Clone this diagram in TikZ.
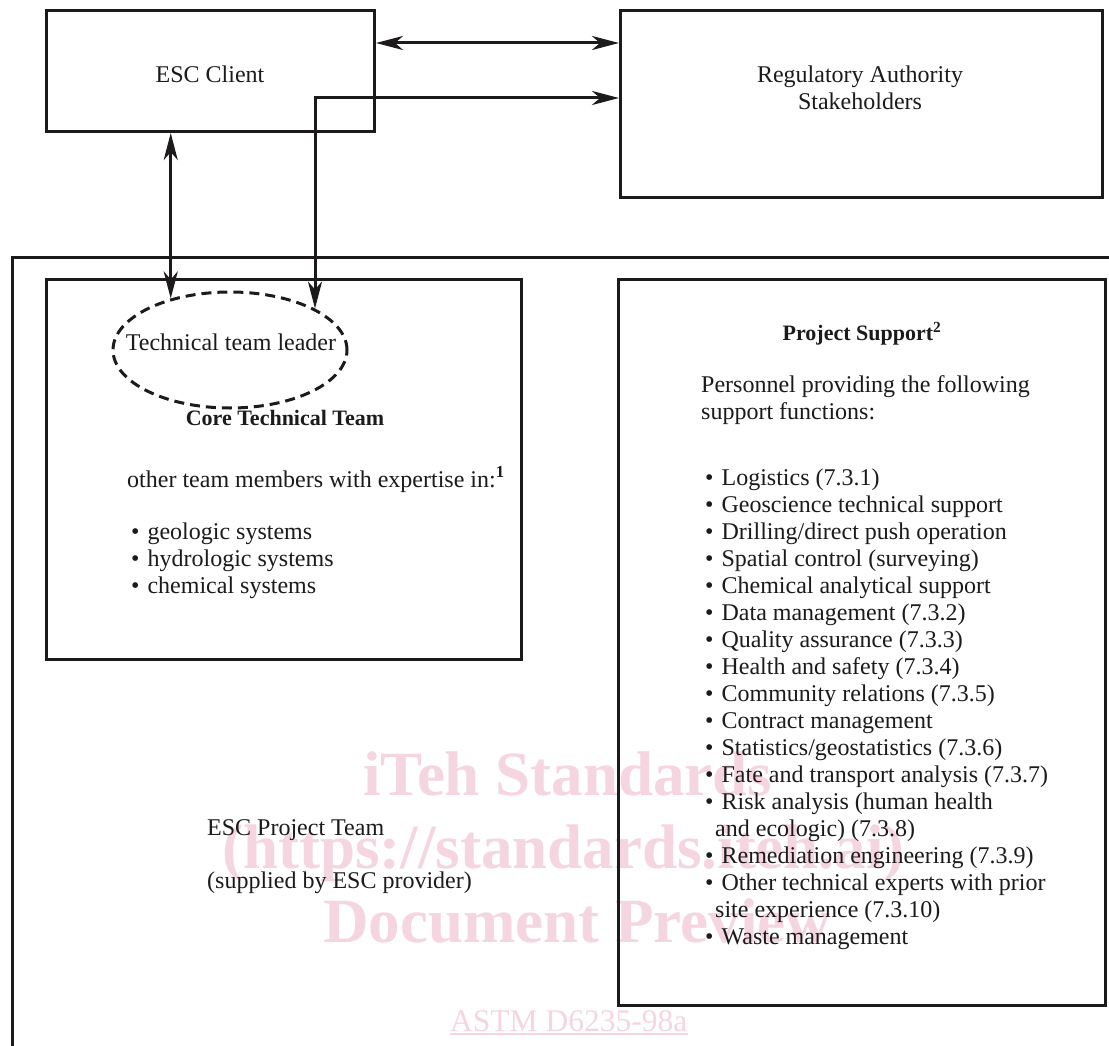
\documentclass[tikz,border=0pt]{standalone}
\usepackage{fontspec}
\setmainfont{Liberation Serif}
\usetikzlibrary{arrows.meta,shapes.geometric,calc}
\definecolor{inkblack}{RGB}{28,26,26}
\definecolor{markpink}{RGB}{245,214,224}
\newcommand\bodysize{\fontsize{24}{27}\selectfont}
\newcommand\headsize{\fontsize{22}{26}\selectfont\bfseries}
\newcommand\wmsize{\fontsize{63}{70}\selectfont\bfseries}
\newcommand\refsize{\fontsize{31.5}{36}\selectfont}
\begin{document}
\begin{tikzpicture}[x=1pt,y=-1pt,
  >={Stealth[length=27pt,width=14pt,inset=8pt]},
  boxframe/.style={draw=inkblack, line width=3pt, inner sep=0pt, anchor=north west},
  leader/.style={ellipse, draw=inkblack, line width=3pt, dash pattern=on 10pt off 6pt,
                 inner sep=0pt, minimum width=234pt, minimum height=116pt},
  link/.style={draw=inkblack, line width=3pt},
  bodytext/.style={inner sep=0pt, text=inkblack, font=\bodysize},
  headline/.style={inner sep=0pt, text=inkblack, font=\headsize, anchor=base},
  listline/.style={bodytext, anchor=base west},
  wmtext/.style={inner sep=0pt, text=markpink, font=\wmsize, anchor=base west}]

\useasboundingbox (0,0) rectangle (1109,1046);
\fill[white] (0,0) rectangle (1109,1046);

% watermark lines, behind everything else
\node[wmtext] (wm1) at (363,795) {iTeh Standards};
\node[wmtext] (wm2) at (222,868) {(https://standards.iteh.ai)};
\node[wmtext] (wm3) at (323,942) {Document Preview};
\node[inner sep=0pt, text=markpink, font=\refsize, anchor=base west] (astm) at (450,1031) {ASTM D6235-98a};
\draw[markpink, line width=1.2pt] ($(astm.base west)+(0,3)$) -- ($(astm.base east)+(0,3)$);

% boxes
\node[boxframe, minimum width=328pt, minimum height=121pt] (client) at (45,9) {};
\node[boxframe, minimum width=482pt, minimum height=187pt] (reg) at (619,9) {};
\node[boxframe, minimum width=475pt, minimum height=380pt] (core) at (45,278) {};
\node[boxframe, minimum width=487pt, minimum height=726pt] (ps) at (617,278) {};

% project team frame (open on the right and bottom)
\coordinate (frameBL) at (12,1046);
\coordinate (frameTR) at (1109,257);
\draw[link] (frameBL) |- (frameTR);

% technical team leader
\node[leader] (lead) at (230,350) {};
\node[bodytext, anchor=base] (leadtxt) at (231,350) {Technical team leader};

% connectors
\coordinate (upper) at (0,43);
\coordinate (lower) at (0,98);
\draw[link,<->] (client.east |- upper) -- (reg.west |- upper);
\draw[link,<->] (lead.139) -- (lead.139 |- client.south);
\draw[link,<->] (lead.26) |- (reg.west |- lower);

% top labels
\node[bodytext, anchor=base] (clienttxt) at (210,83) {ESC Client};
\node[bodytext, anchor=base] (regtxt1) at (860,83) {Regulatory Authority};
\node[bodytext, anchor=base] (regtxt2) at (860,110) {Stakeholders};

% core technical team
\node[headline] (corehead) at (285,425) {Core Technical Team};
\node[listline] (coreintro) at (127,487) {other team members with expertise in:\textsuperscript{\bfseries 1}};
\node[listline] (core1) at (131,539) {\textbullet\hspace{8pt}geologic systems};
\node[listline] (core2) at (131,566) {\textbullet\hspace{8pt}hydrologic systems};
\node[listline] (core3) at (131,593) {\textbullet\hspace{8pt}chemical systems};

% project support
\node[headline] (pshead) at (862,340) {Project Support\textsuperscript{2}};
\node[listline] (psintro1) at (701,392) {Personnel providing the following};
\node[listline] (psintro2) at (701,419) {support functions:};
\node[listline] (ps0)  at (705,485) {\textbullet\hspace{8pt}Logistics (7.3.1)};
\node[listline] (ps1)  at (705,512) {\textbullet\hspace{8pt}Geoscience technical support};
\node[listline] (ps2)  at (705,539) {\textbullet\hspace{8pt}Drilling/direct push operation};
\node[listline] (ps3)  at (705,566) {\textbullet\hspace{8pt}Spatial control (surveying)};
\node[listline] (ps4)  at (705,593) {\textbullet\hspace{8pt}Chemical analytical support};
\node[listline] (ps5)  at (705,620) {\textbullet\hspace{8pt}Data management (7.3.2)};
\node[listline] (ps6)  at (705,647) {\textbullet\hspace{8pt}Quality assurance (7.3.3)};
\node[listline] (ps7)  at (705,674) {\textbullet\hspace{8pt}Health and safety (7.3.4)};
\node[listline] (ps8)  at (705,701) {\textbullet\hspace{8pt}Community relations (7.3.5)};
\node[listline] (ps9)  at (705,728) {\textbullet\hspace{8pt}Contract management};
\node[listline] (ps10) at (705,755) {\textbullet\hspace{8pt}Statistics/geostatistics (7.3.6)};
\node[listline] (ps11) at (705,782) {\textbullet\hspace{8pt}Fate and transport analysis (7.3.7)};
\node[listline] (ps12) at (705,809) {\textbullet\hspace{8pt}Risk analysis (human health};
\node[listline] (ps13) at (715,836) {and ecologic) (7.3.8)};
\node[listline] (ps14) at (705,863) {\textbullet\hspace{8pt}Remediation engineering (7.3.9)};
\node[listline] (ps15) at (705,890) {\textbullet\hspace{8pt}Other technical experts with prior};
\node[listline] (ps16) at (715,917) {site experience (7.3.10)};
\node[listline] (ps17) at (705,944) {\textbullet\hspace{8pt}Waste management};

% project team caption
\node[listline] (teamname) at (207,835) {ESC Project Team};
\node[listline] (teamsrc) at (207,888) {(supplied by ESC provider)};
\end{tikzpicture}
\end{document}
